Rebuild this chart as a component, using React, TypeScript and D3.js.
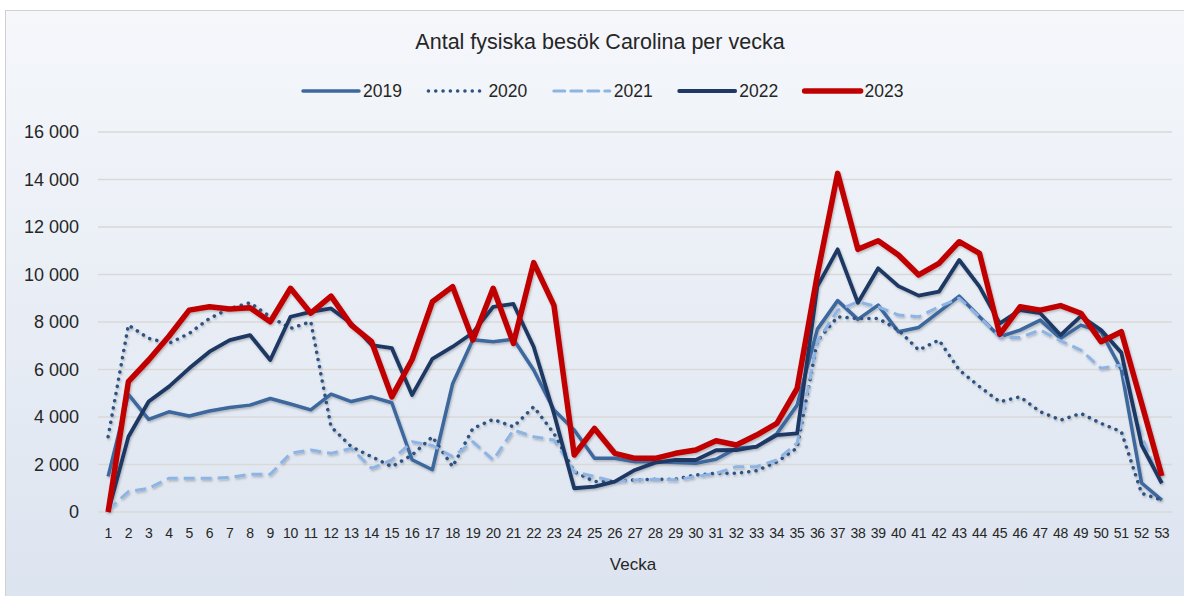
import * as d3 from 'd3'
import React, { useEffect, useRef } from 'react'

const weeks = d3.range(1, 54)

const v2019 = [1500, 4950, 3900, 4220, 4040, 4250, 4400, 4500, 4780, 4550, 4300, 4960, 4650, 4850, 4600, 2200, 1780, 5400, 7250, 7170, 7270, 5980, 4300, 3450, 2260, 2260, 2120, 2120, 2080, 2050, 2220, 2680, 2750, 3300, 4500, 7700, 8900, 8110, 8710, 7590, 7770, 8430, 9090, 8220, 7380, 7660, 8080, 7310, 7870, 7590, 6000, 1220, 500]
const v2020 = [3170, 7870, 7310, 7100, 7520, 8150, 8570, 8810, 8220, 7730, 8010, 3590, 2750, 2330, 1910, 2400, 3170, 1910, 3520, 3900, 3590, 4430, 3310, 1700, 1280, 1300, 1350, 1380, 1380, 1560, 1630, 1630, 1740, 2110, 2700, 7200, 8220, 8150, 8150, 7660, 6820, 7240, 5980, 5280, 4640, 4850, 4220, 3870, 4150, 3730, 3380, 790, 500]
const v2021 = [100, 860, 1000, 1420, 1420, 1420, 1450, 1590, 1590, 2470, 2610, 2470, 2680, 1840, 2190, 2960, 2800, 2330, 2960, 2190, 3450, 3170, 3030, 1700, 1490, 1280, 1350, 1380, 1350, 1490, 1630, 1910, 1910, 2190, 2900, 7200, 8500, 8850, 8640, 8290, 8220, 8640, 9000, 8220, 7350, 7350, 7660, 7210, 6820, 6050, 6190, 3200, 1100]
const v2022 = [0, 3170, 4650, 5280, 6050, 6750, 7240, 7450, 6400, 8220, 8430, 8570, 7940, 7030, 6900, 4930, 6450, 6960, 7550, 8640, 8760, 6960, 4150, 1000, 1070, 1280, 1770, 2080, 2190, 2190, 2600, 2610, 2750, 3240, 3310, 9500, 11060, 8810, 10260, 9510, 9110, 9280, 10610, 9490, 7940, 8500, 8370, 7450, 8250, 7660, 6710, 2820, 1210]
const v2023 = [0, 5490, 6400, 7400, 8500, 8640, 8550, 8600, 8010, 9420, 8370, 9090, 7870, 7170, 4850, 6420, 8850, 9490, 7240, 9420, 7100, 10500, 8700, 2400, 3520, 2470, 2260, 2260, 2470, 2610, 3000, 2820, 3240, 3730, 5200, 10000, 14260, 11060, 11420, 10820, 9980, 10470, 11380, 10890, 7480, 8640, 8500, 8690, 8370, 7170, 7590, 4580, 1515]

const yTicks = [0, 2000, 4000, 6000, 8000, 10000, 12000, 14000, 16000]

const seriesNames = ['2019', '2020', '2021', '2022', '2023']
const seriesValues = [v2019, v2020, v2021, v2022, v2023]

// styling per series (same order as names)
const styles = [
  { color: '#3d679d', width: 3.5, dash: null as string | null },
  { color: '#2e5283', width: 3.5, dash: '0.1 7.2' },
  { color: '#8eb4e3', width: 3, dash: '11 6' },
  { color: '#1f3864', width: 3.8, dash: null },
  { color: '#c00000', width: 5.5, dash: null },
]

const W = 1184
const H = 596
const font = "'Liberation Sans', Arial, sans-serif"

const fmt = d3.formatLocale({ decimal: ',', thousands: ' ', grouping: [3], currency: ['', ''] }).format(',')

export default function App() {
  const svgRef = useRef<SVGSVGElement | null>(null)

  useEffect(() => {
    const svg = d3.select(svgRef.current)
    svg.selectAll('*').remove()

    const x = d3.scaleBand<number>().domain(weeks).range([98, 1172])
    const y = d3.scaleLinear().domain([0, 16000]).range([512, 132])
    const cx = (w: number) => (x(w) ?? 0) + x.bandwidth() / 2

    const defs = svg.append('defs')
    const grad = defs
      .append('linearGradient')
      .attr('id', 'bg')
      .attr('x1', 0)
      .attr('y1', 0)
      .attr('x2', 0)
      .attr('y2', 1)
    grad.append('stop').attr('offset', '0%').attr('stop-color', '#f5f7fb')
    grad.append('stop').attr('offset', '100%').attr('stop-color', '#dbe3ef')

    const shadow = defs.append('filter').attr('id', 'sh').attr('x', '-5%').attr('y', '-5%').attr('width', '110%').attr('height', '110%')
    shadow
      .append('feDropShadow')
      .attr('dx', 1)
      .attr('dy', 1.5)
      .attr('stdDeviation', 1.2)
      .attr('flood-color', '#000')
      .attr('flood-opacity', 0.25)

    svg.append('rect').attr('width', W).attr('height', H).attr('fill', '#fff')
    svg
      .append('rect')
      .attr('x', 5.5)
      .attr('y', 10.5)
      .attr('width', W + 20)
      .attr('height', H + 20)
      .attr('fill', 'url(#bg)')
      .attr('stroke', '#d0d0d0')
      .attr('stroke-width', 1)

    // title
    svg
      .append('text')
      .attr('x', 600)
      .attr('y', 49)
      .attr('text-anchor', 'middle')
      .attr('font-family', font)
      .attr('font-size', 21.5)
      .attr('fill', '#262626')
      .text('Antal fysiska besök Carolina per vecka')

    // gridlines + y labels
    const grid = svg.append('g')
    grid
      .selectAll('line')
      .data(yTicks)
      .enter()
      .append('line')
      .attr('x1', 98)
      .attr('x2', 1172)
      .attr('y1', (d) => y(d))
      .attr('y2', (d) => y(d))
      .attr('stroke', '#d9d9d9')
      .attr('stroke-width', 1.5)

    grid
      .selectAll('text')
      .data(yTicks)
      .enter()
      .append('text')
      .attr('x', 79)
      .attr('y', (d) => y(d))
      .attr('dy', '0.36em')
      .attr('text-anchor', 'end')
      .attr('font-family', font)
      .attr('font-size', 18)
      .attr('fill', '#262626')
      .text((d) => fmt(d))

    // x labels
    svg
      .append('g')
      .selectAll('text')
      .data(weeks)
      .enter()
      .append('text')
      .attr('x', (d) => cx(d))
      .attr('y', 538)
      .attr('text-anchor', 'middle')
      .attr('font-family', font)
      .attr('font-size', 14)
      .attr('letter-spacing', -0.3)
      .attr('fill', '#262626')
      .text((d) => String(d))

    svg
      .append('text')
      .attr('x', 633)
      .attr('y', 570)
      .attr('text-anchor', 'middle')
      .attr('font-family', font)
      .attr('font-size', 17)
      .attr('fill', '#262626')
      .text('Vecka')

    // series
    const line = d3
      .line<number>()
      .x((_, i) => cx(weeks[i]))
      .y((d) => y(d))

    const lines = svg.append('g').attr('filter', 'url(#sh)')
    seriesValues.forEach((vals, i) => {
      const s = styles[i]
      lines
        .append('path')
        .attr('d', line(vals))
        .attr('fill', 'none')
        .attr('stroke', s.color)
        .attr('stroke-width', s.width)
        .attr('stroke-linejoin', 'round')
        .attr('stroke-linecap', s.dash === '0.1 7.2' ? 'round' : 'butt')
        .attr('stroke-dasharray', s.dash)
    })

    // legend
    const legend = svg.append('g')
    seriesNames.forEach((name, i) => {
      const s = styles[i]
      const lx = 303 + i * 125.4
      legend
        .append('line')
        .attr('x1', lx)
        .attr('x2', lx + 56)
        .attr('y1', 91)
        .attr('y2', 91)
        .attr('stroke', s.color)
        .attr('stroke-width', s.width)
        .attr('stroke-linecap', 'round')
        .attr('stroke-dasharray', s.dash)
      legend
        .append('text')
        .attr('x', lx + 60)
        .attr('y', 97)
        .attr('font-family', font)
        .attr('font-size', 17.5)
        .attr('fill', '#262626')
        .text(name)
    })
  }, [])

  return <svg ref={svgRef} width={W} height={H} style={{ position: 'absolute', left: 0, top: 0 }}></svg>
}
